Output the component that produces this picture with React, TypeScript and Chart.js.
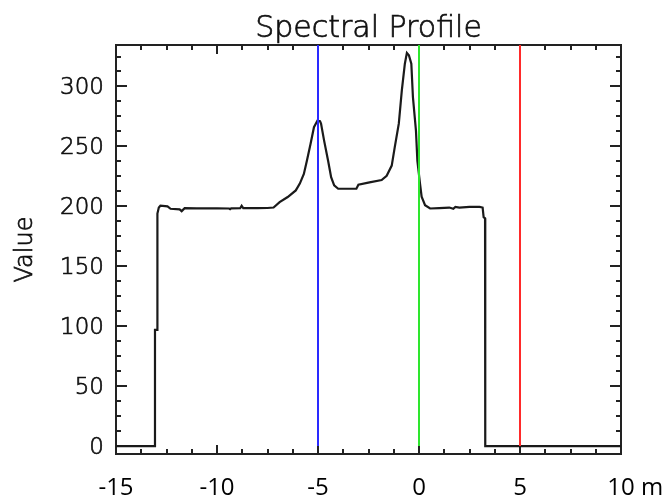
import React, { useEffect, useRef } from "react";
import { Chart, registerables } from "chart.js";

Chart.register(...registerables);

// ---- data ----
const profileX = [
  -15, -13.08, -13.07, -12.96, -12.95, -12.88, -12.8, -12.45, -12.3, -11.85,
  -11.75, -11.6, -11, -10, -9.4, -9.35, -9.3, -8.85, -8.78, -8.7,
  -8, -7.5, -7.2, -6.9, -6.5, -6.1, -5.9, -5.7, -5.55, -5.37,
  -5.2, -5.03, -4.9, -4.85, -4.7, -4.5, -4.35, -4.2, -4.0, -3.1,
  -3.0, -2.45, -1.85, -1.6, -1.35, -1.2, -1.0, -0.85, -0.7, -0.6,
  -0.5, -0.38, -0.3, -0.15, -0.08, 0.05, 0.13, 0.3, 0.55, 1.0,
  1.5, 1.7, 1.8, 2.0, 2.5, 3.0, 3.15, 3.2, 3.27, 3.28, 10,
];
const profileY = [
  0, 0, 97, 97, 194, 199, 200.5, 200, 198, 197.5,
  196, 198.5, 198.3, 198.4, 198.2, 197.6, 198.3, 198.4, 200.5, 198.5,
  198.5, 198.6, 199, 203.5, 207.8, 213.3, 219, 227, 238, 252,
  266, 271.5, 271, 269, 255, 238, 224.4, 217.5, 214.7, 214.7,
  218, 220, 222, 225.5, 234, 249.4, 269, 296.7, 319, 328,
  326, 319, 291, 263, 238, 219, 208, 201, 198.2, 198.5,
  199, 198, 199.5, 199, 199.5, 199.6, 199, 191, 190, 0, 0,
];

const markerX = [-5, 0, 5];
const markerColors = ["#2a2aff", "#2ee62e", "#ff2a2a"];

const xMin = -15;
const xMax = 10;
const yMin = -6.6;
const yMax = 334.6;

const xTickValues = [-15, -10, -5, 0, 5, 10];
const xTickLabels = ["-15", "-10", "-5", "0", "5", "10 m"];
const xMinorStep = 1.25;
const yTickValues = [0, 50, 100, 150, 200, 250, 300];
const yTickLabels = ["0", "50", "100", "150", "200", "250", "300"];
const yMinorStep = 12.5;

const titleText = "Spectral Profile";
const yTitleText = "Value";

const AXIS = "#222222";
const TEXT = "#111111";

const framePlugin = {
  id: "frame",
  beforeDatasetsDraw(chart: any) {
    const { ctx, chartArea: a, scales } = chart;
    const xs = scales.x;
    const ys = scales.y;
    ctx.save();
    ctx.strokeStyle = AXIS;
    ctx.lineWidth = 2;
    const seg = (x1: number, y1: number, x2: number, y2: number) => {
      ctx.beginPath();
      ctx.moveTo(x1, y1);
      ctx.lineTo(x2, y2);
      ctx.stroke();
    };
    for (let v = xMin; v <= xMax + 1e-9; v += xMinorStep) {
      const px = Math.round(xs.getPixelForValue(v));
      const major = xTickValues.some((t) => Math.abs(t - v) < 1e-6);
      const len = major ? 9 : 5;
      seg(px, a.bottom, px, a.bottom - len);
      seg(px, a.top, px, a.top + len);
    }
    for (let v = 0; v <= yMax + 1e-9; v += yMinorStep) {
      const py = Math.round(ys.getPixelForValue(v));
      const major = yTickValues.some((t) => Math.abs(t - v) < 1e-6);
      const len = major ? 11 : 5;
      seg(a.left, py, a.left + len, py);
      seg(a.right, py, a.right - len, py);
    }
    ctx.strokeRect(a.left, a.top, a.right - a.left, a.bottom - a.top);
    ctx.restore();
  },
  afterDraw(chart: any) {
    const { ctx, chartArea: a, scales } = chart;
    const xs = scales.x;
    const ys = scales.y;
    ctx.save();
    ctx.fillStyle = TEXT;
    ctx.strokeStyle = TEXT;
    ctx.lineWidth = 0.7;
    const txt = (s: string, x: number, y: number) => {
      ctx.fillText(s, x, y);
      ctx.strokeText(s, x, y);
    };
    ctx.font = "200 30px 'DejaVu Sans'";
    ctx.textAlign = "center";
    ctx.textBaseline = "alphabetic";
    txt(titleText, (a.left + a.right) / 2, a.top - 8);
    ctx.font = "200 23px 'DejaVu Sans'";
    ctx.textAlign = "right";
    yTickValues.forEach((v, i) => {
      const py = ys.getPixelForValue(v);
      txt(yTickLabels[i], a.left - 12, py + 8);
    });
    ctx.save();
    ctx.translate(32, (a.top + a.bottom) / 2);
    ctx.rotate(-Math.PI / 2);
    ctx.textAlign = "center";
    ctx.font = "200 24px 'DejaVu Sans'";
    txt(yTitleText, 0, 0);
    ctx.restore();
    ctx.fillStyle = "#000000";
    ctx.font = "24px 'Open Sans'";
    xTickValues.forEach((v, i) => {
      const px = xs.getPixelForValue(v);
      const label = xTickLabels[i];
      if (label.indexOf(" ") >= 0) {
        const num = label.split(" ")[0];
        const w = ctx.measureText(num).width;
        ctx.textAlign = "left";
        ctx.fillText(label, px - w / 2, a.bottom + 41);
      } else {
        ctx.textAlign = "center";
        ctx.fillText(label, px, a.bottom + 41);
      }
    });
    ctx.restore();
  },
};

export default function App() {
  const ref = useRef<HTMLCanvasElement | null>(null);
  useEffect(() => {
    if (!ref.current) return;
    const profile = profileX.map((x, i) => ({ x, y: profileY[i] }));
    const markers = markerX.map((x, i) => ({
      data: [
        { x, y: 0 },
        { x, y: yMax },
      ],
      borderColor: markerColors[i],
      borderWidth: 2,
      pointRadius: 0,
      showLine: true,
    }));
    const chart = new Chart(ref.current, {
      type: "scatter",
      data: {
        datasets: [
          ...markers,
          {
            data: profile,
            borderColor: "#1a1a1a",
            borderWidth: 2.2,
            pointRadius: 0,
            showLine: true,
          },
        ],
      },
      options: {
        animation: false,
        responsive: false,
        devicePixelRatio: 1,
        layout: { padding: { left: 116, right: 50, top: 45, bottom: 47 } },
        plugins: { legend: { display: false }, tooltip: { enabled: false } },
        scales: {
          x: { type: "linear", min: xMin, max: xMax, display: false },
          y: { type: "linear", min: yMin, max: yMax, display: false },
        },
      },
      plugins: [framePlugin],
    } as any);
    return () => chart.destroy();
  }, []);
  return (
    <div style={{ position: "absolute", left: 0, top: 0, width: 671, height: 501, background: "#fff" }}>
      <canvas ref={ref} width={671} height={501} />
    </div>
  );
}
